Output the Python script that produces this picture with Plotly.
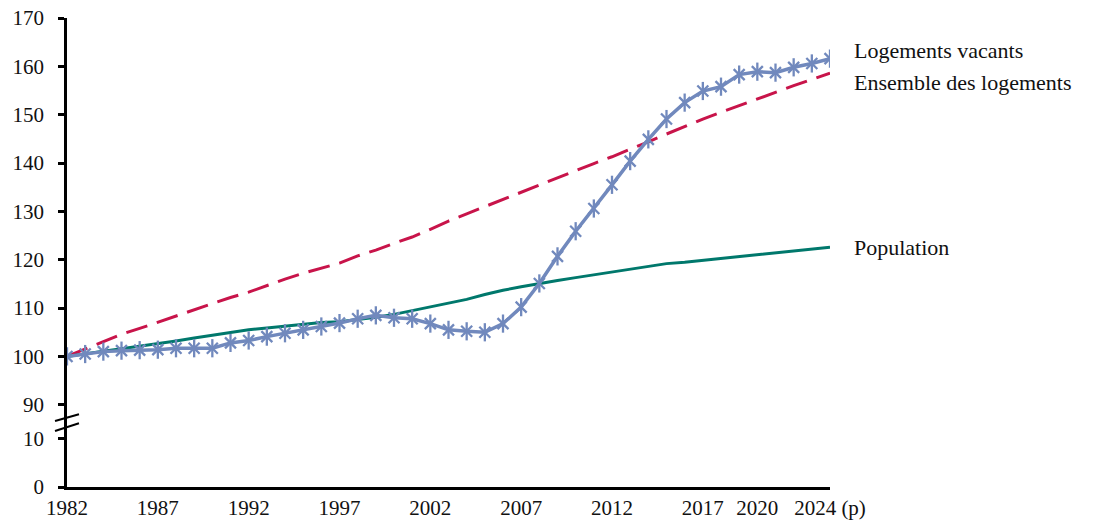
import plotly.graph_objects as go

years = list(range(1982, 2025))

logements_vacants = [100.0, 100.5, 101.0, 101.2, 101.3, 101.4, 101.7, 101.7, 101.7, 102.8,
                     103.3, 104.1, 104.8, 105.5, 106.2, 106.9, 107.8, 108.5, 108.0, 107.8,
                     106.8, 105.5, 105.2, 105.0, 106.8, 110.2, 115.1, 120.7, 125.9, 130.6,
                     135.5, 140.4, 144.9, 149.1, 152.5, 154.9, 155.8, 158.3, 158.9, 158.7,
                     159.8, 160.6, 161.6]

ensemble_logements = [100.0, 101.5, 103.0, 104.6, 105.8, 107.1, 108.4, 109.7, 111.0, 112.2,
                      113.3, 114.7, 116.0, 117.2, 118.3, 119.3, 120.8, 122.0, 123.4, 124.7,
                      126.3, 128.0, 129.5, 131.0, 132.5, 134.0, 135.5, 137.0, 138.5, 139.9,
                      141.3, 142.8, 144.4, 146.0, 147.6, 149.1, 150.5, 151.9, 153.3, 154.6,
                      156.0, 157.3, 158.6]

population = [100.0, 100.6, 101.1, 101.6, 102.1, 102.6, 103.2, 103.8, 104.4, 104.9,
              105.5, 105.9, 106.3, 106.7, 107.0, 107.2, 107.6, 108.1, 108.7, 109.5,
              110.3, 111.1, 111.8, 112.8, 113.7, 114.4, 115.1, 115.7, 116.3, 116.9,
              117.4, 118.0, 118.6, 119.2, 119.5, 119.9, 120.2, 120.6, 121.0, 121.4,
              121.8, 122.2, 122.6]

x_tick_vals = [1982, 1987, 1992, 1997, 2002, 2007, 2012, 2017, 2020, 2024]
x_tick_text = ["1982", "1987", "1992", "1997", "2002", "2007", "2012", "2017", "2020", "2024 (p)"]
y_tick_values = [0, 10, 90, 100, 110, 120, 130, 140, 150, 160, 170]

# broken axis: values >= 90 are shifted down to sit just above the 0-10 segment
BREAK_OFFSET = 73


def to_axis(v):
    return v if v <= 10 else v - BREAK_OFFSET


FONT = "Liberation Serif"
BLUE = "#7189BD"
RED = "#C8144A"
GREEN = "#00786C"

vac_y = [to_axis(v) for v in logements_vacants]

fig = go.Figure()
fig.add_trace(go.Scatter(
    x=years, y=[to_axis(v) for v in ensemble_logements], mode="lines",
    line=dict(color=RED, width=3, dash="22px,10px"), name="Ensemble des logements"))
fig.add_trace(go.Scatter(
    x=years, y=[to_axis(v) for v in population], mode="lines",
    line=dict(color=GREEN, width=3), name="Population"))
fig.add_trace(go.Scatter(
    x=years, y=vac_y, mode="lines+markers",
    line=dict(color=BLUE, width=3.5),
    marker=dict(symbol="x-thin-open", size=11, color=BLUE, line=dict(color=BLUE, width=2.3)),
    name="Logements vacants"))
fig.add_trace(go.Scatter(
    x=years, y=vac_y, mode="markers", hoverinfo="skip",
    marker=dict(symbol="line-ns-open", size=13, color=BLUE, line=dict(color=BLUE, width=2.3)),
    name="Logements vacants (marqueurs)"))

labels = [("Logements vacants", logements_vacants[-1] + 1.7),
          ("Ensemble des logements", ensemble_logements[-1] - 1.9),
          ("Population", population[-1] - 0.1)]
for text, v in labels:
    fig.add_annotation(x=1.0, xref="paper", xshift=22, y=to_axis(v), yref="y",
                       text=text, showarrow=False, xanchor="left", yanchor="middle",
                       font=dict(family=FONT, size=22, color="#111111"))

# axis break marks
for y0, y1 in [(13.65, 15.03), (11.58, 13.17)]:
    fig.add_shape(type="line", xref="paper", yref="y", x0=-0.0157, x1=0.0157, y0=y0, y1=y1,
                  line=dict(color="black", width=2))

fig.update_layout(
    width=1094, height=531,
    margin=dict(l=67, r=264, t=18, b=44, autoexpand=False),
    plot_bgcolor="white", paper_bgcolor="white",
    showlegend=False,
    font=dict(family=FONT, size=21, color="#111111"),
)
fig.update_xaxes(range=[1982, 2024], tickvals=x_tick_vals, ticktext=x_tick_text,
                 showgrid=False, zeroline=False, showline=True, linecolor="black", linewidth=2.5,
                 ticks="", ticklabelstandoff=0, automargin=False, ticklabeloverflow="allow",
                 tickfont=dict(family=FONT, size=21))
fig.update_yaxes(range=[0, to_axis(170)], tickvals=[to_axis(v) for v in y_tick_values],
                 ticktext=[str(v) for v in y_tick_values],
                 showgrid=False, zeroline=False, showline=True, linecolor="black", linewidth=2.5,
                 ticks="outside", ticklen=6, tickwidth=2.5, tickcolor="black",
                 ticklabelstandoff=10, automargin=False, ticklabeloverflow="allow",
                 tickfont=dict(family=FONT, size=21))

fig.write_html("out.html", config={"displayModeBar": False},
               post_script="document.body.style.margin='0';document.body.style.overflow='hidden';")
